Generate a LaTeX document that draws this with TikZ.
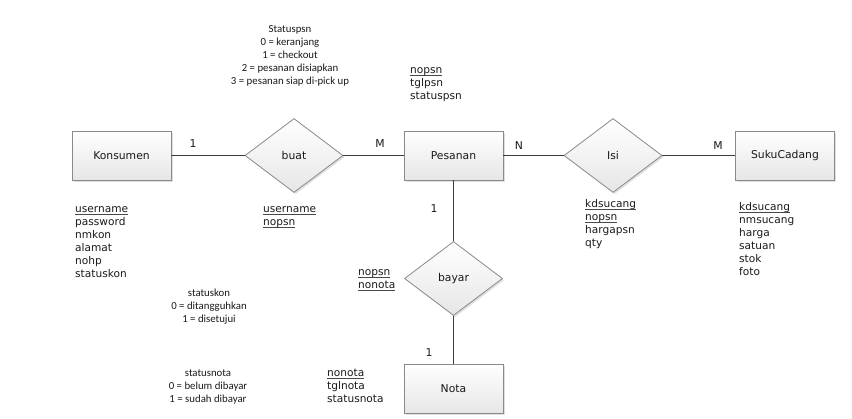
\documentclass[tikz,border=0pt]{standalone}
\usepackage{fontspec}
\setmainfont{DejaVu Sans}
\newfontfamily\calib{Carlito}
\usetikzlibrary{shapes.geometric,shadows}
\definecolor{boxline}{HTML}{8A8A8A}
\definecolor{boxfill}{HTML}{E6E6E6}
\definecolor{connline}{HTML}{3C3C3C}
\definecolor{txt}{HTML}{1A1A1A}
\newcommand\keyattr[1]{\setbox0\hbox{#1}\rlap{\color{txt!80}\rule[-1.9pt]{\wd0}{0.6pt}}\box0}
\begin{document}
\begin{tikzpicture}[x=1pt,y=-1pt,
  every node/.style={text=txt},
  ent/.style={rectangle, draw=boxline, line width=0.8pt, top color=white, bottom color=boxfill,
    minimum width=99pt, minimum height=49pt, inner sep=0pt,
    drop shadow={shadow xshift=1.6pt, shadow yshift=-1.6pt, opacity=0.25},
    font=\fontsize{10.8}{13}\selectfont},
  rel/.style={diamond, draw=boxline, line width=0.8pt, top color=white, bottom color=boxfill,
    minimum width=98pt, minimum height=74pt, inner sep=0pt, aspect=1.3,
    drop shadow={shadow xshift=1.6pt, shadow yshift=-1.6pt, opacity=0.25},
    font=\fontsize{10.8}{13}\selectfont},
  conn/.style={draw=connline, line width=1.1pt},
  card/.style={font=\fontsize{10.8}{13}\selectfont, inner sep=0pt},
  attr/.style={font=\fontsize{10.6}{13}\selectfont, anchor=base west, inner sep=0pt},
  note/.style={font=\calib\fontsize{10.8}{13}\selectfont, anchor=base, inner sep=0pt}
]
\useasboundingbox (0,0) rectangle (852,419);
\fill[white] (0,0) rectangle (852,419);

% entities and relations
\node[ent] (kons) at (121.5,155.5) {Konsumen};
\node[rel] (buat) at (294,155.5) {buat};
\node[ent] (pes) at (453.5,155.5) {Pesanan};
\node[rel] (isi) at (613,155.5) {Isi};
\node[ent] (suku) at (785,155.5) {SukuCadang};
\node[rel] (bayar) at (453.5,278.5) {bayar};
\node[ent] (nota) at (453.5,388.5) {Nota};

% connectors
\draw[conn] (kons.east) -- (buat.west);
\draw[conn] (buat.east) -- (pes.west);
\draw[conn] (pes.east) -- (isi.west);
\draw[conn] (isi.east) -- (suku.west);
\draw[conn] (pes.south) -- (bayar.north);
\draw[conn] (bayar.south) -- (nota.north);

% cardinalities
\node[card] (c1) at (193,144) {1};
\node[card] (c2) at (380,144) {M};
\node[card] (c3) at (519,146) {N};
\node[card] (c4) at (718,146) {M};
\node[card] (c5) at (434,209) {1};
\node[card] (c6) at (429,353) {1};

% attribute lists
\foreach \t [count=\i] in {\keyattr{username},password,nmkon,alamat,nohp,statuskon}
  \node[attr] (ka\i) at (75,213+13*\i-13) {\t};
\foreach \t [count=\i] in {\keyattr{username},\keyattr{nopsn}}
  \node[attr] (ba\i) at (263,213+13*\i-13) {\t};
\foreach \t [count=\i] in {\keyattr{nopsn},tglpsn,statuspsn}
  \node[attr] (pa\i) at (410,74+13*\i-13) {\t};
\foreach \t [count=\i] in {\keyattr{kdsucang},\keyattr{nopsn},hargapsn,qty}
  \node[attr] (ia\i) at (585,208+13*\i-13) {\t};
\foreach \t [count=\i] in {\keyattr{kdsucang},nmsucang,harga,satuan,stok,foto}
  \node[attr] (sa\i) at (739,211+13*\i-13) {\t};
\foreach \t [count=\i] in {\keyattr{nopsn},\keyattr{nonota}}
  \node[attr] (ya\i) at (358,276+13*\i-13) {\t};
\foreach \t [count=\i] in {\keyattr{nonota},tglnota,statusnota}
  \node[attr] (na\i) at (327,377+13*\i-13) {\t};

% notes
\foreach \t [count=\i] in {Statuspsn,0 = keranjang,1 = checkout,2 = pesanan disiapkan,3 = pesanan siap di-pick up}
  \node[note] (sp\i) at (290,33+13*\i-13) {\t};
\foreach \t [count=\i] in {statuskon,0 = ditangguhkan,1 = disetujui}
  \node[note] (sk\i) at (209,297+13*\i-13) {\t};
\foreach \t [count=\i] in {statusnota,0 = belum dibayar,1 = sudah dibayar}
  \node[note] (sn\i) at (208,377+13*\i-13) {\t};
\end{tikzpicture}
\end{document}
